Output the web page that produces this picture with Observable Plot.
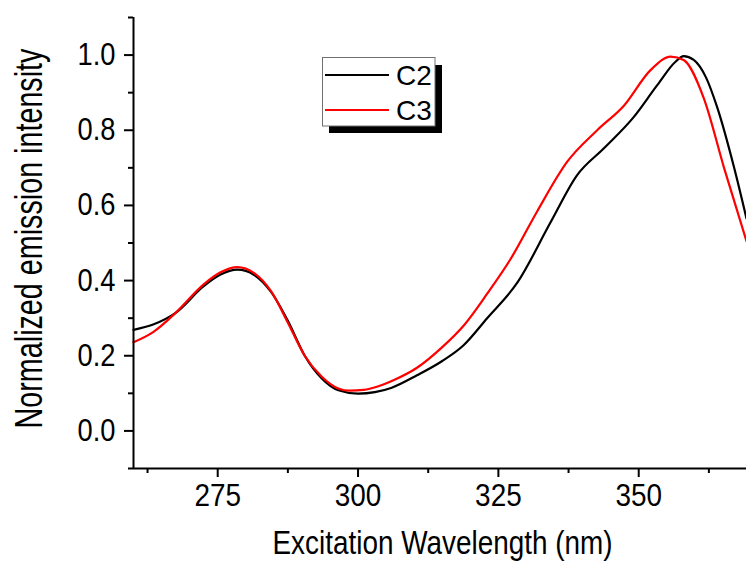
<!DOCTYPE html>
<html><head><meta charset="utf-8">
<script src="https://cdn.jsdelivr.net/npm/d3@7"></script>
<script src="https://cdn.jsdelivr.net/npm/@observablehq/plot@0.6"></script>
<style>html,body{margin:0;padding:0;background:#fff;} #chart svg{display:block;}</style>
</head><body><div id="chart"></div>
<script>
const seriesNames = ["C2", "C3"];
const seriesColors = ["#000000", "#ff0000"];
const c2Wavelength = [260, 263.5, 267.5, 272.5, 275.5, 278.5, 281.5, 284.5, 287.5, 290.5, 293.5, 296.5, 300, 303, 306, 310.5, 315, 318.8, 323, 328.4, 334.3, 339, 343.8, 349.1, 353.3, 356.6, 358, 359.8, 362, 364, 367, 369.2];
const c2Intensity  = [0.269, 0.283, 0.314, 0.385, 0.416, 0.429, 0.415, 0.370, 0.293, 0.200, 0.140, 0.108, 0.099, 0.103, 0.115, 0.148, 0.186, 0.228, 0.300, 0.395, 0.555, 0.680, 0.752, 0.835, 0.920, 0.983, 0.997, 0.987, 0.940, 0.860, 0.700, 0.565];
const c3Wavelength = [260, 263.5, 267.5, 272.5, 275.5, 278.5, 281.5, 284.5, 287.5, 290.5, 293.5, 296.5, 298.5, 301, 303.5, 306.5, 310.5, 315, 318.8, 323, 327.2, 331.9, 337.3, 342.6, 347.4, 352.1, 355.7, 358, 361.6, 365.2, 369.2];
const c3Intensity  = [0.236, 0.263, 0.314, 0.390, 0.422, 0.436, 0.420, 0.372, 0.288, 0.200, 0.145, 0.113, 0.107, 0.109, 0.118, 0.136, 0.168, 0.223, 0.280, 0.365, 0.458, 0.584, 0.717, 0.800, 0.866, 0.960, 0.996, 0.987, 0.885, 0.700, 0.505];
const xMajorTicks = [275, 300, 325, 350];
const xMinorTicks = [262.5, 287.5, 312.5, 337.5, 362.5];
const yMajorTicks = [0, 0.2, 0.4, 0.6, 0.8, 1.0];
const yMinorTicks = [-0.1, 0.1, 0.3, 0.5, 0.7, 0.9, 1.1];
const xTitle = "Excitation Wavelength (nm)";
const yTitle = "Normalized emission intensity";

const rows = [
  ...c2Wavelength.map((w, i) => ({series: seriesNames[0], w, v: c2Intensity[i]})),
  ...c3Wavelength.map((w, i) => ({series: seriesNames[1], w, v: c3Intensity[i]}))
];
const FONT = "'Liberation Sans', Arial, Helvetica, sans-serif";

const plot = Plot.plot({
  width: 746,
  height: 561,
  marginLeft: 133,
  marginRight: 0,
  marginTop: 17,
  marginBottom: 93,
  style: {fontFamily: FONT, fontSize: "28px", background: "#fff", color: "#000"},
  x: {domain: [260, 369.2], label: null},
  y: {domain: [-0.1, 1.1], label: null},
  color: {domain: seriesNames, range: seriesColors},
  marks: [
    Plot.line(rows.filter(d => d.series === seriesNames[0]), {x: "w", y: "v", stroke: "series", strokeWidth: 2.2, curve: "monotone-x"}),
    Plot.line(rows.filter(d => d.series === seriesNames[1]), {x: "w", y: "v", stroke: "series", strokeWidth: 2.2, curve: "monotone-x"}),
    Plot.axisX(xMajorTicks, {tickSize: 9, tickPadding: 6, strokeWidth: 2, fontSize: 31, tickFormat: d3.format("d"), label: null}),
    Plot.axisX(xMinorTicks, {tickSize: 5, strokeWidth: 2, tickFormat: () => "", label: null}),
    Plot.axisY(yMajorTicks, {tickSize: 9, tickPadding: 9, strokeWidth: 2, fontSize: 31, tickFormat: d3.format(".1f"), label: null}),
    Plot.axisY(yMinorTicks, {tickSize: 5, strokeWidth: 2, tickFormat: () => "", label: null}),
    Plot.ruleX([260], {y1: -0.1, y2: 1.1, strokeWidth: 2}),
    Plot.ruleY([-0.1], {strokeWidth: 2}),
    Plot.text([xTitle], {frameAnchor: "bottom", dy: 75, dx: 2.5, lineAnchor: "middle", fontSize: 33.5, textAnchor: "middle"}),
    Plot.text([yTitle], {frameAnchor: "left", dx: -103.5, dy: -4.5, rotate: -90, lineAnchor: "middle", fontSize: 38, textAnchor: "middle"})
  ]
});
document.getElementById("chart").appendChild(plot);

const svg = d3.select(plot);
// condense glyphs horizontally (the reference font is narrow)
function condense(sel, sx) {
  sel.each(function() {
    const t = d3.select(this);
    let tr = t.attr("transform");
    if (!tr) {
      const x = +t.attr("x") || 0, y = +t.attr("y") || 0;
      t.attr("x", null).attr("y", null);
      tr = `translate(${x},${y})`;
    }
    t.attr("transform", tr + ` scale(${sx},1)`);
  });
}
condense(svg.selectAll('g[aria-label="x-axis tick label"] text'), 0.9);
condense(svg.selectAll('g[aria-label="y-axis tick label"] text'), 0.88);
condense(svg.selectAll('g[aria-label="text"] text').filter(function() { return this.textContent === xTitle; }), 0.833);
condense(svg.selectAll('g[aria-label="text"] text').filter(function() { return this.textContent === yTitle; }), 0.756);

// legend
const lg = svg.append("g").attr("font-family", FONT).attr("font-size", 28).attr("text-anchor", "start");
lg.append("rect").attr("x", 329).attr("y", 65).attr("width", 113).attr("height", 68).attr("fill", "#000");
lg.append("rect").attr("x", 322.5).attr("y", 57.5).attr("width", 112.5).attr("height", 68.5).attr("fill", "#fff").attr("stroke", "#707070").attr("stroke-width", 1);
seriesNames.forEach((name, i) => {
  const y = 75 + 35 * i;
  lg.append("line").attr("x1", 325).attr("x2", 389).attr("y1", y).attr("y2", y).attr("stroke", seriesColors[i]).attr("stroke-width", 2);
  lg.append("text").attr("x", 396).attr("y", y + 10).attr("fill", "#000").text(name);
});
</script>
</body></html>
